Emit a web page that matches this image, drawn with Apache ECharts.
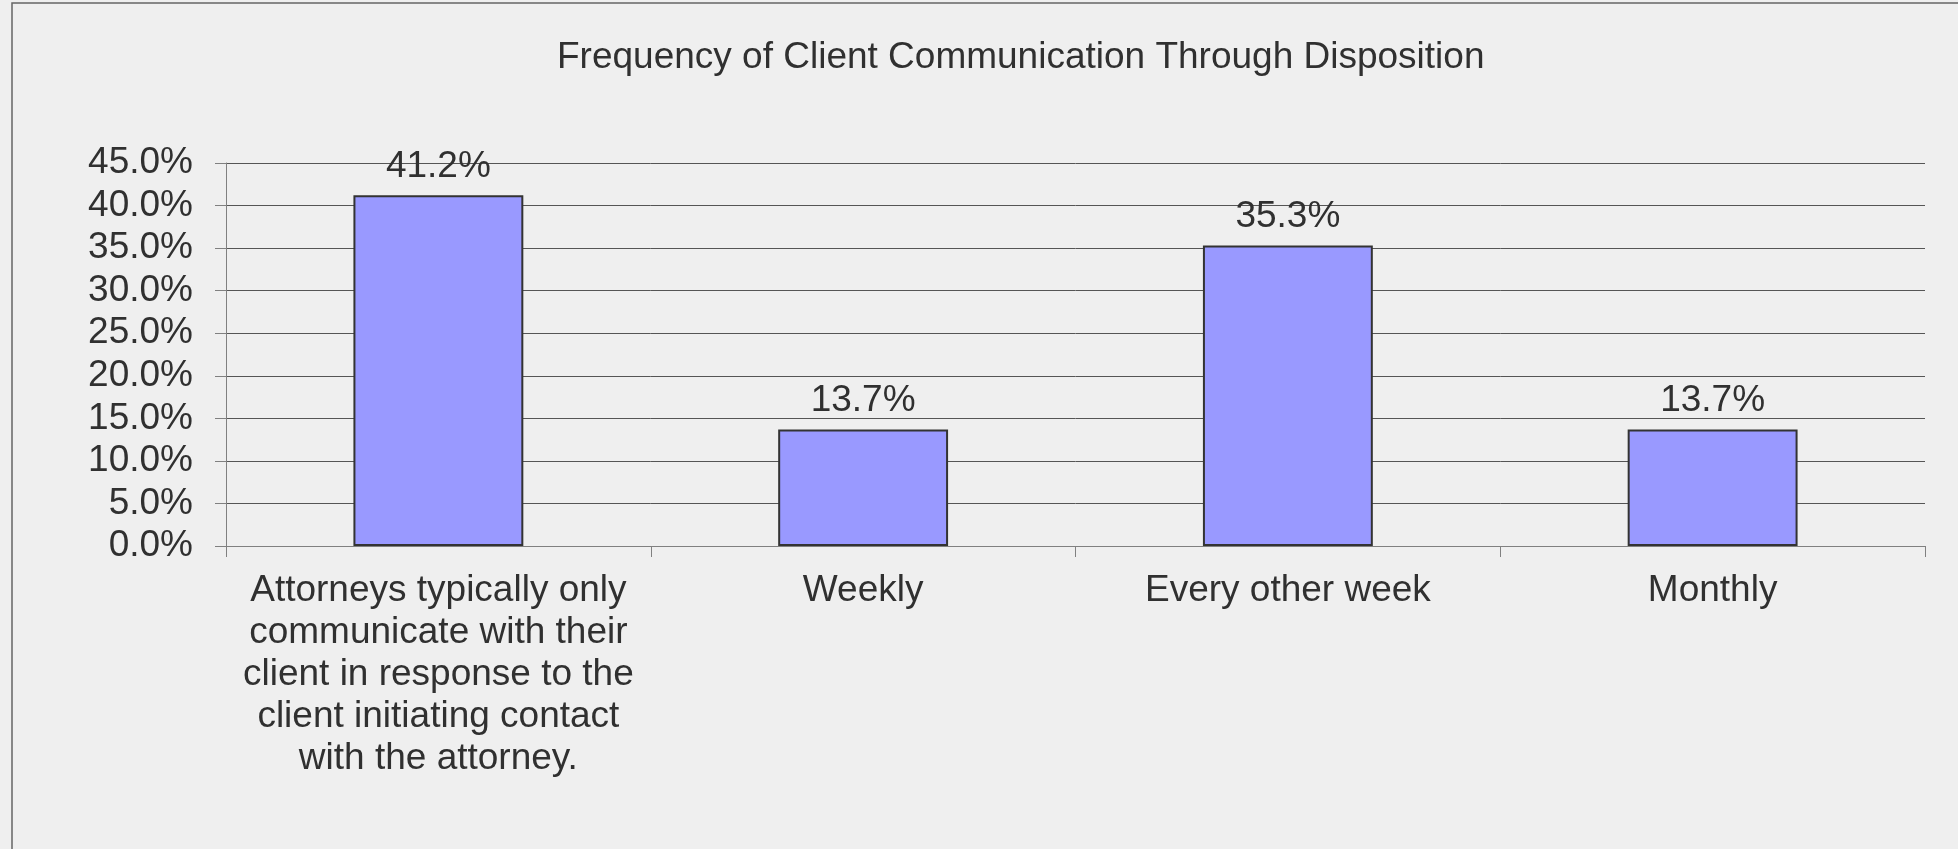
<!DOCTYPE html>
<html>
<head>
<meta charset="utf-8">
<script src="https://cdn.jsdelivr.net/npm/echarts@6/dist/echarts.min.js"></script>
<style>
html,body{margin:0;padding:0;background:#efefef;}
#chart{width:1958px;height:849px;}
</style>
</head>
<body>
<div id="chart"></div>
<script>
var titleText = 'Frequency of Client Communication Through Disposition';
var categories = [
  'Attorneys typically only\ncommunicate with their\nclient in response to the\nclient initiating contact\nwith the attorney.',
  'Weekly',
  'Every other week',
  'Monthly'
];
var values = [41.2, 13.7, 35.3, 13.7];
var yMin = 0, yMax = 45, yStep = 5;

var font = '"Liberation Sans", Arial, Helvetica, sans-serif';
var chart = echarts.init(document.getElementById('chart'));
chart.setOption({
  backgroundColor: '#efefef',
  animation: false,
  title: {
    text: titleText,
    left: 552,
    top: 34,
    textStyle: {fontFamily: font, fontSize: 37, fontWeight: 'normal', color: '#303030'}
  },
  graphic: [{
    type: 'rect',
    shape: {x: 12, y: 3, width: 2000, height: 900},
    style: {fill: 'none', stroke: '#666666', lineWidth: 1.5},
    silent: true
  }],
  grid: {left: 226, right: 33, top: 163, bottom: 303, containLabel: false},
  xAxis: {
    type: 'category',
    data: categories,
    boundaryGap: true,
    axisLine: {show: true, lineStyle: {color: '#808080', width: 1}},
    axisTick: {show: true, length: 11, alignWithLabel: false, lineStyle: {color: '#808080'}},
    axisLabel: {
      interval: 0, margin: 24, color: '#303030',
      fontFamily: font, fontSize: 37, lineHeight: 42, align: 'center'
    },
    splitLine: {show: false}
  },
  yAxis: {
    type: 'value',
    min: yMin, max: yMax, interval: yStep,
    axisLine: {show: true, lineStyle: {color: '#808080', width: 1}},
    axisTick: {show: true, length: 11, lineStyle: {color: '#808080'}},
    axisLabel: {
      margin: 33, color: '#303030', fontFamily: font, fontSize: 37,
      formatter: function (v) { return v.toFixed(1) + '%'; }
    },
    splitLine: {show: true, lineStyle: {color: '#555555', width: 1}}
  },
  series: [{
    type: 'bar',
    data: values,
    barCategoryGap: '60%',
    itemStyle: {color: '#9999ff', borderColor: '#333333', borderWidth: 2},
    label: {
      show: true, position: 'top', distance: 10, color: '#303030',
      fontFamily: font, fontSize: 37,
      formatter: function (p) { return p.value.toFixed(1) + '%'; }
    }
  }]
});
</script>
</body>
</html>
